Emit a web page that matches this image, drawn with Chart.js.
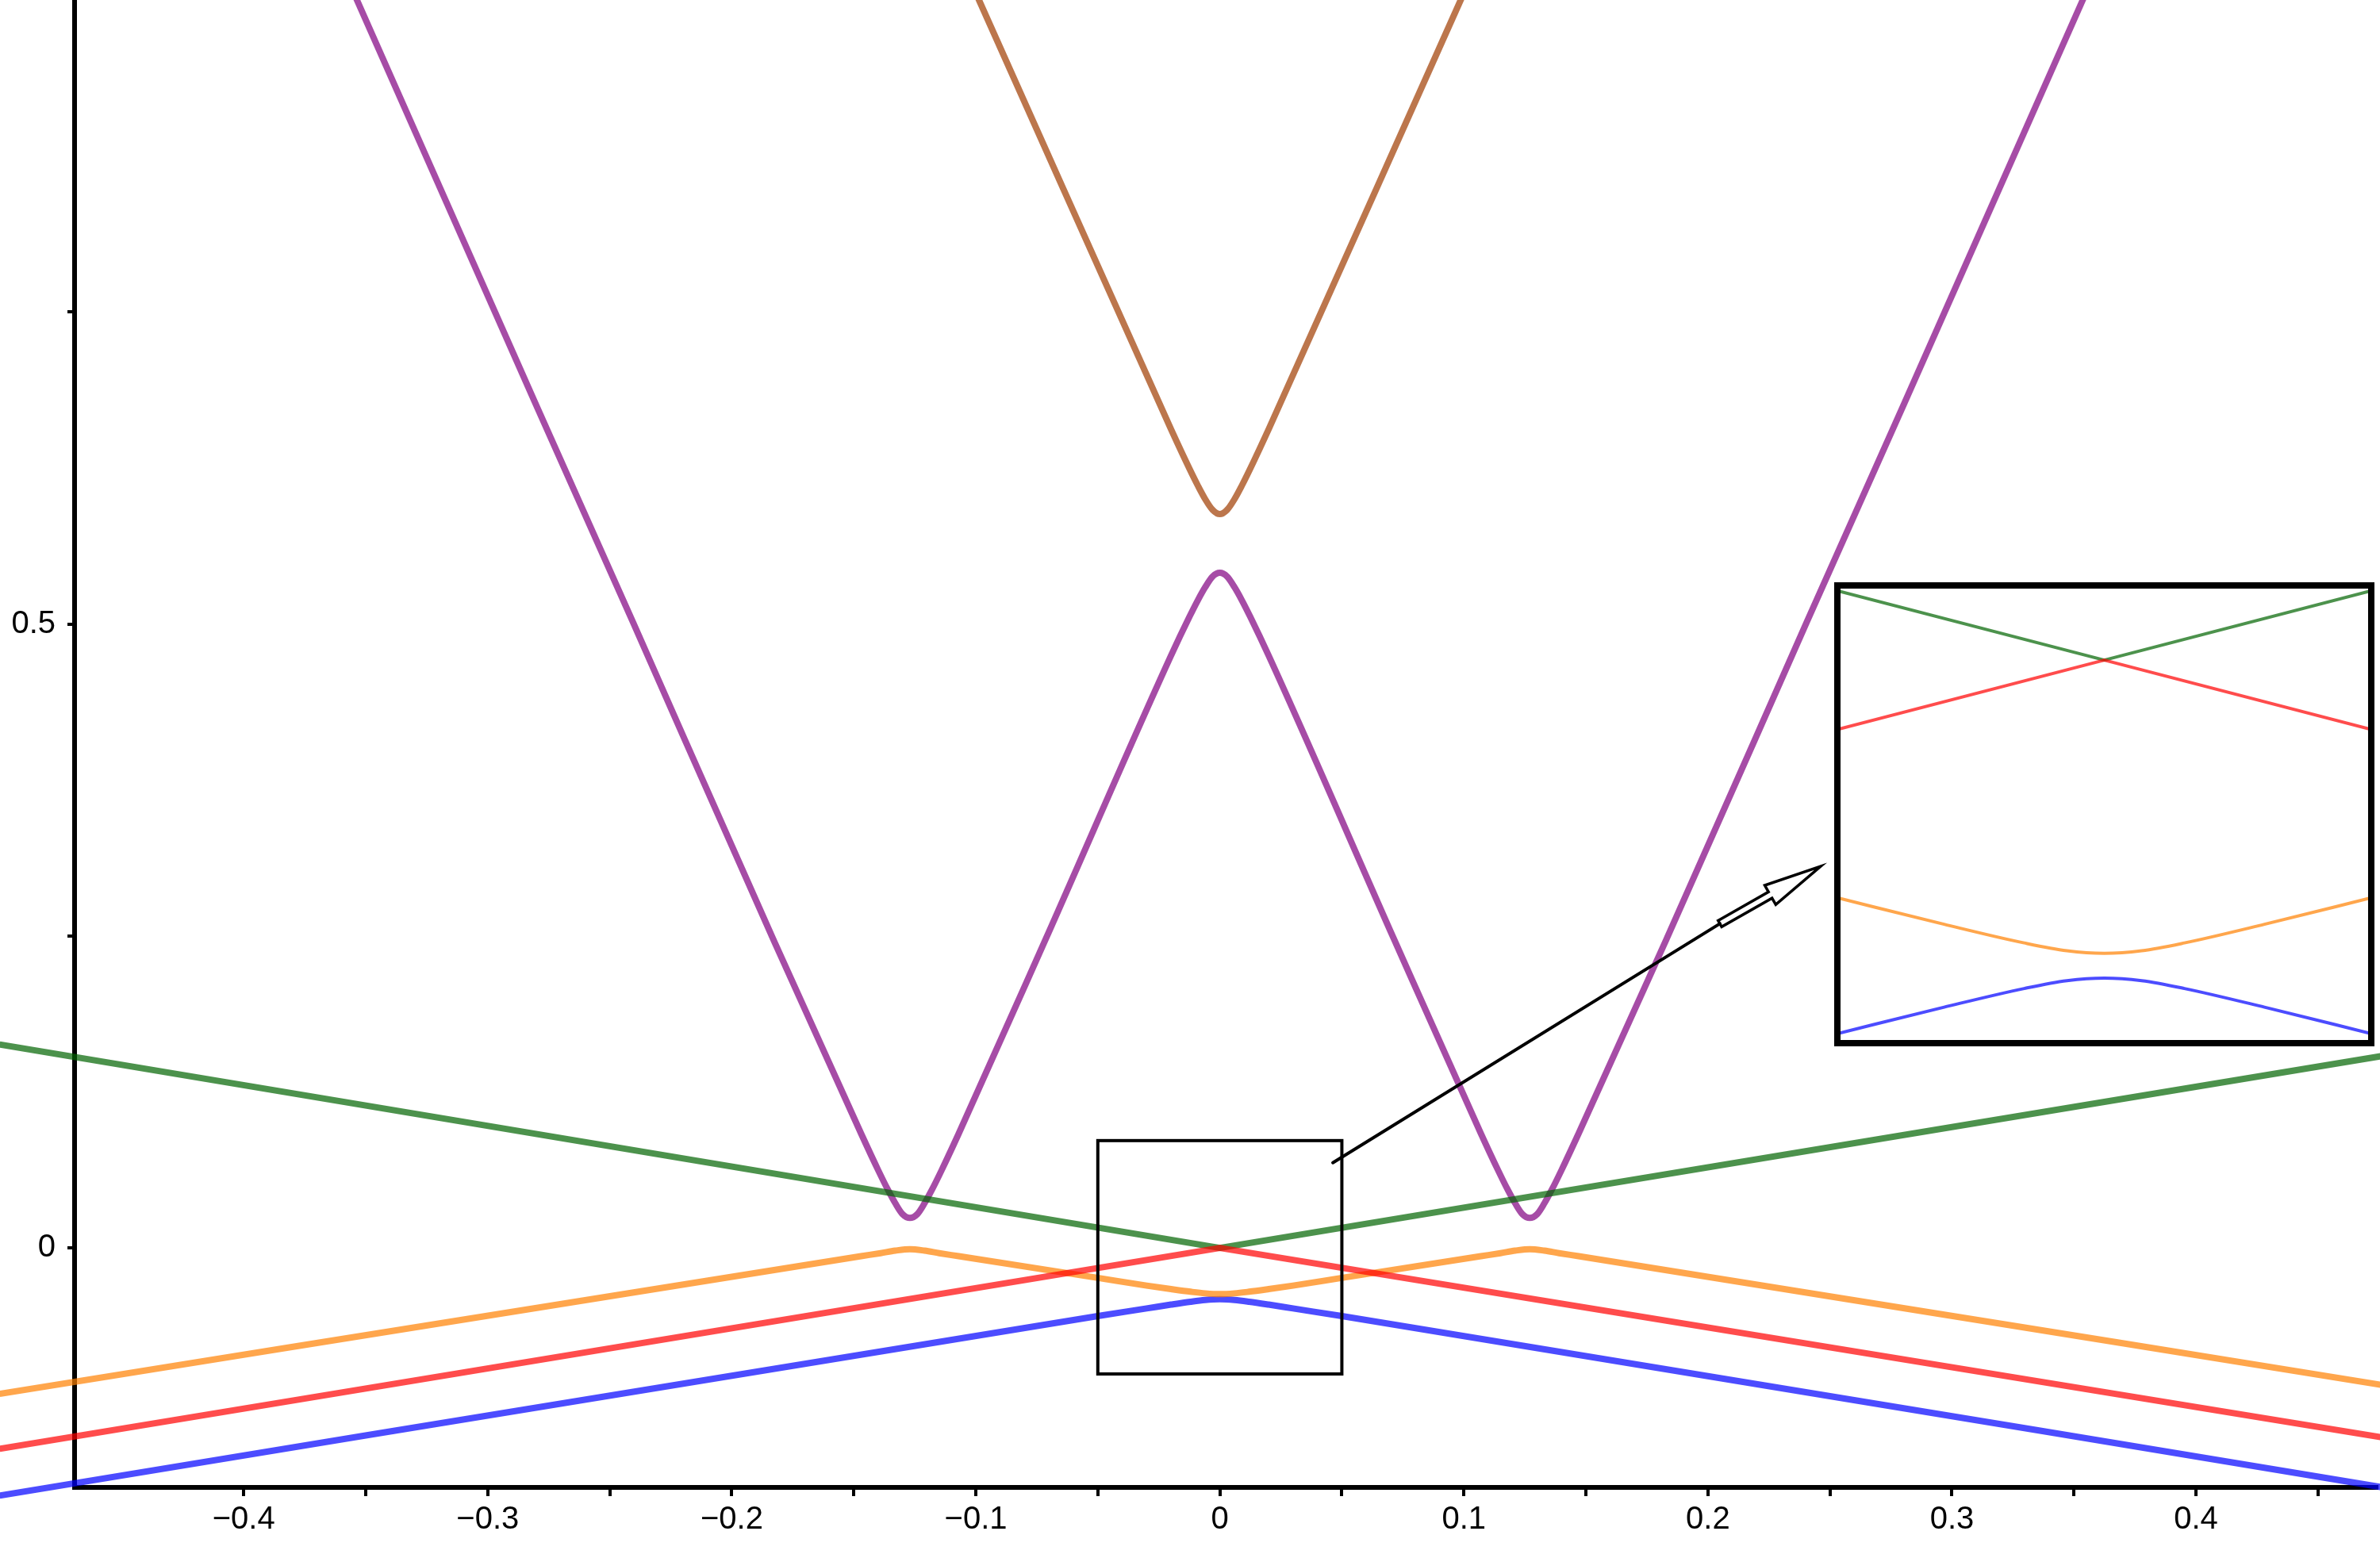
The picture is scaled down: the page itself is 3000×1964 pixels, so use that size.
<!DOCTYPE html>
<html>
<head>
<meta charset="utf-8">
<title>Band structure</title>
<script src="https://cdn.jsdelivr.net/npm/chart.js@4.4.1/dist/chart.umd.min.js"></script>
<style>
    body { margin: 0; background: #ffffff; }
    #wrap { position: relative; width: 3000px; height: 1964px; }
    #mainChart { position: absolute; left: 0; top: 0; }
    #insetChart { position: absolute; left: 2312px; top: 734px; }
</style>
</head>
<body>
<div id="wrap">
    <canvas id="mainChart" width="3000" height="1964"></canvas>
    <canvas id="insetChart" width="681" height="585"></canvas>
</div>
<script>
// ticks of the main axes
const xTicks = [-0.4, -0.35, -0.3, -0.25, -0.2, -0.15, -0.1, -0.05, 0, 0.05, 0.1, 0.15, 0.2, 0.25, 0.3, 0.35, 0.4, 0.45];
const xTickLabels = ["\u22120.4", "", "\u22120.3", "", "\u22120.2", "", "\u22120.1", "", "0", "", "0.1", "", "0.2", "", "0.3", "", "0.4", ""];
const yTicks = [0, 0.25, 0.5, 0.75];
const yTickLabels = ["0", "", "0.5", ""];

// bands of the main plot
const greenX = [-0.5, 0, 0.48];
const greenY = [0.163, 0, 0.155];
const redX = [-0.5, 0, 0.48];
const redY = [-0.161, 0, -0.153];
const orangeX = [-0.5, -0.147, -0.139, -0.133, -0.127, -0.121, -0.115, -0.107, -0.05, -0.03, -0.02, -0.012, -0.006, 0,
                 0.006, 0.012, 0.02, 0.03, 0.05, 0.107, 0.115, 0.121, 0.127, 0.133, 0.139, 0.147, 0.48];
const orangeY = [-0.117, -0.0066, -0.0042, -0.0022, -0.001, -0.0022, -0.0042, -0.0066, -0.024, -0.0302, -0.033, -0.0351, -0.0364, -0.037,
                 -0.0364, -0.0351, -0.033, -0.0302, -0.024, -0.0066, -0.0042, -0.0022, -0.001, -0.0022, -0.0042, -0.0066, -0.111];
const blueX = [-0.5, -0.05, -0.03, -0.02, -0.012, -0.006, 0, 0.006, 0.012, 0.02, 0.03, 0.05, 0.48];
const blueY = [-0.1985, -0.0546, -0.0485, -0.0454, -0.0431, -0.0417, -0.0411, -0.0417, -0.0431, -0.0454, -0.0485, -0.0546, -0.193];
const purpleX = [-0.366, -0.3536, -0.2404, -0.1827, -0.147, -0.14, -0.136, -0.133, -0.13, -0.127, -0.124, -0.121, -0.118, -0.114, -0.107,
                 -0.0717, -0.02, -0.0125, -0.009, -0.006, -0.003, 0,
                 0.003, 0.006, 0.009, 0.0125, 0.02, 0.0717,
                 0.107, 0.114, 0.118, 0.121, 0.124, 0.127, 0.13, 0.133, 0.136, 0.14, 0.147, 0.1827, 0.2404, 0.3536, 0.366];
const purpleY = [1.057, 1.0, 0.501, 0.246, 0.0916, 0.0623, 0.0465, 0.0358, 0.027, 0.024, 0.027, 0.0358, 0.0465, 0.0623, 0.0916,
                 0.246, 0.4747, 0.5056, 0.5191, 0.5295, 0.538, 0.541,
                 0.538, 0.5295, 0.5191, 0.5056, 0.4747, 0.246,
                 0.0916, 0.0623, 0.0465, 0.0358, 0.027, 0.024, 0.027, 0.0358, 0.0465, 0.0623, 0.0916, 0.246, 0.501, 1.0, 1.057];
const brownX = [-0.105, -0.0987, -0.02, -0.0125, -0.009, -0.006, -0.003, 0, 0.003, 0.006, 0.009, 0.0125, 0.02, 0.0987, 0.105];
const brownY = [1.027, 1.0, 0.656, 0.6246, 0.6108, 0.6, 0.5915, 0.588, 0.5915, 0.6, 0.6108, 0.6246, 0.656, 1.0, 1.027];

// the inset (its own vertical scale)
const insetLineX = [-0.05, 0, 0.05];
const insetGreenY = [0.016, 0, 0.016];
const insetRedY = [-0.016, 0, -0.016];
const insetCurveX = [-0.05, -0.03, -0.015, -0.007, 0, 0.007, 0.015, 0.03, 0.05];
const insetOrangeY = [-0.0548, -0.0609, -0.0652, -0.067, -0.0676, -0.067, -0.0652, -0.0609, -0.0548];
const insetBlueY = [-0.0861, -0.08, -0.0757, -0.0739, -0.0733, -0.0739, -0.0757, -0.08, -0.0861];

// zoom box and arrow, in data units of the main plot
const zoomBoxX = [-0.05, 0.05];
const zoomBoxY = [-0.101, 0.086];
const arrowFrom = [0.0463, 0.0683];
const arrowBase = [0.2049, 0.2598];
const arrowTip = [0.2462, 0.3058];

const colors = {
    green: "rgba(0, 100, 0, 0.7)",
    red: "rgba(255, 0, 0, 0.7)",
    orange: "rgba(255, 128, 0, 0.7)",
    blue: "rgba(0, 0, 255, 0.7)",
    purple: "rgba(128, 0, 128, 0.7)",
    brown: "rgba(160, 60, 0, 0.7)"
};
const fontFamily = "'Liberation Sans', Arial, sans-serif";

function toPoints(xs, ys) {
    return xs.map((x, i) => ({ x: x, y: ys[i] }));
}

// straight lines for the crossing bands, monotone curves for the rounded ones
function band(xs, ys, color, width, clip, smooth) {
    return {
        data: toPoints(xs, ys),
        borderColor: color,
        borderWidth: width,
        borderJoinStyle: "round",
        pointRadius: 0,
        fill: false,
        tension: 0,
        cubicInterpolationMode: smooth ? "monotone" : "default",
        clip: clip
    };
}

// draws the outlined arrow head at the end of the pointer
function drawHollowArrow(ctx, x0, y0, x1, y1) {
    const len = Math.hypot(x1 - x0, y1 - y0);
    const ux = (x1 - x0) / len, uy = (y1 - y0) / len;
    const nx = -uy, ny = ux;
    const headStart = len * 0.5;
    const shape = [[0, -4.5], [headStart, -4.5], [headStart, -14], [len, 0], [headStart, 14], [headStart, 4.5], [0, 4.5]];
    ctx.beginPath();
    shape.forEach(([a, b], i) => {
        const px = x0 + ux * a + nx * b;
        const py = y0 + uy * a + ny * b;
        if (i === 0) ctx.moveTo(px, py); else ctx.lineTo(px, py);
    });
    ctx.closePath();
    ctx.stroke();
}

const annotationPlugin = {
    id: "annotations",
    afterDatasetsDraw(chart) {
        const ctx = chart.ctx;
        const xs = chart.scales.x, ys = chart.scales.y;
        ctx.save();
        ctx.strokeStyle = "#000";

        // the zoom rectangle
        const left = xs.getPixelForValue(zoomBoxX[0]);
        const right = xs.getPixelForValue(zoomBoxX[1]);
        const top = ys.getPixelForValue(zoomBoxY[1]);
        const bottom = ys.getPixelForValue(zoomBoxY[0]);
        ctx.lineWidth = 4;
        ctx.strokeRect(left, top, right - left, bottom - top);

        // pointer line to the inset
        const ax = xs.getPixelForValue(arrowFrom[0]), ay = ys.getPixelForValue(arrowFrom[1]);
        const bx = xs.getPixelForValue(arrowBase[0]), by = ys.getPixelForValue(arrowBase[1]);
        const tx = xs.getPixelForValue(arrowTip[0]), ty = ys.getPixelForValue(arrowTip[1]);
        ctx.lineWidth = 4;
        ctx.lineCap = "round";
        ctx.beginPath();
        ctx.moveTo(ax, ay);
        ctx.lineTo(bx, by);
        ctx.stroke();
        ctx.lineWidth = 3.5;
        ctx.lineJoin = "miter";
        drawHollowArrow(ctx, bx, by, tx, ty);
        ctx.restore();
    }
};

new Chart(document.getElementById("mainChart"), {
    type: "line",
    data: {
        datasets: [
            band(redX, redY, colors.red, 8, false, false),
            band(greenX, greenY, colors.green, 8, false, false),
            band(orangeX, orangeY, colors.orange, 8, false, true),
            band(blueX, blueY, colors.blue, 8, false, true),
            band(purpleX, purpleY, colors.purple, 8, false, true),
            band(brownX, brownY, colors.brown, 8, false, true)
        ]
    },
    options: {
        responsive: false,
        devicePixelRatio: 1,
        animation: false,
        layout: { padding: { left: 0, right: 4, top: 0, bottom: 0 } },
        plugins: { legend: { display: false }, tooltip: { enabled: false } },
        scales: {
            x: {
                type: "linear",
                min: -0.4693,
                max: 0.4741,
                afterBuildTicks: scale => { scale.ticks = xTicks.map(v => ({ value: v })); },
                afterFit: scale => { scale.height = 89; scale.paddingLeft = 0; scale.paddingRight = 0; },
                border: { display: true, color: "#000", width: 6 },
                grid: { drawOnChartArea: false, drawTicks: true, tickLength: 11, color: "#000", lineWidth: 4 },
                ticks: {
                    autoSkip: false,
                    maxRotation: 0,
                    minRotation: 0,
                    padding: 6,
                    color: "#000",
                    font: { family: fontFamily, size: 40 },
                    callback: (value, index) => xTickLabels[index]
                }
            },
            y: {
                type: "linear",
                min: -0.1919,
                max: 1.0,
                afterBuildTicks: scale => { scale.ticks = yTicks.map(v => ({ value: v })); },
                afterFit: scale => { scale.width = 94; scale.paddingTop = 0; scale.paddingBottom = 0; },
                border: { display: true, color: "#000", width: 6 },
                grid: { drawOnChartArea: false, drawTicks: true, tickLength: 9, color: "#000", lineWidth: 4 },
                ticks: {
                    autoSkip: false,
                    padding: 15,
                    color: "#000",
                    font: { family: fontFamily, size: 40 },
                    callback: (value, index) => yTickLabels[index]
                }
            }
        }
    },
    plugins: [annotationPlugin]
});

// frame around the inset
const insetFramePlugin = {
    id: "insetFrame",
    afterDraw(chart) {
        const { ctx, chartArea } = chart;
        ctx.save();
        ctx.strokeStyle = "#000";
        ctx.lineWidth = 8;
        ctx.strokeRect(chartArea.left, chartArea.top, chartArea.right - chartArea.left, chartArea.bottom - chartArea.top);
        ctx.restore();
    }
};

new Chart(document.getElementById("insetChart"), {
    type: "line",
    data: {
        datasets: [
            band(insetLineX, insetRedY, colors.red, 4, true, false),
            band(insetLineX, insetGreenY, colors.green, 4, true, false),
            band(insetCurveX, insetOrangeY, colors.orange, 4, true, true),
            band(insetCurveX, insetBlueY, colors.blue, 4, true, true)
        ]
    },
    options: {
        responsive: false,
        devicePixelRatio: 1,
        animation: false,
        layout: { padding: 4 },
        plugins: { legend: { display: false }, tooltip: { enabled: false } },
        scales: {
            x: { type: "linear", min: -0.05, max: 0.05, display: false },
            y: { type: "linear", min: -0.0883, max: 0.0172, display: false }
        }
    },
    plugins: [insetFramePlugin]
});
</script>
</body>
</html>
